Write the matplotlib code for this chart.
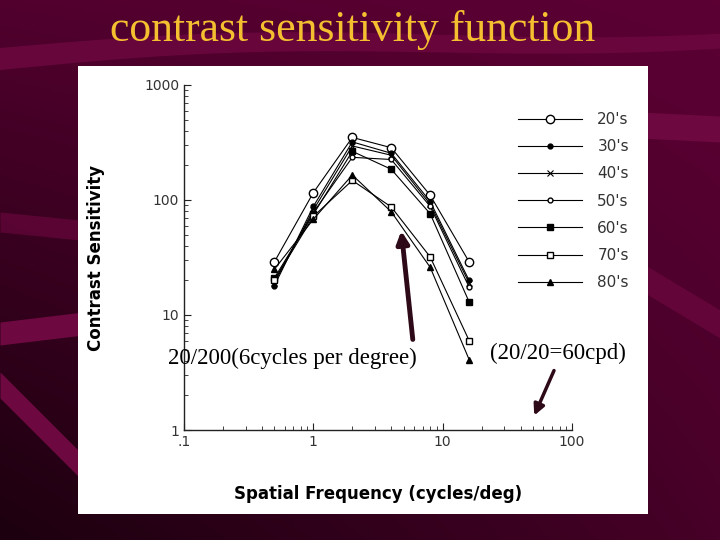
import numpy as np
import matplotlib.pyplot as plt
from matplotlib.colors import LinearSegmentedColormap

# spatial frequency (cycles/deg) and contrast sensitivity per age group
freq = [0.5, 1, 2, 4, 8, 16]
cs_20s = [29, 116, 350, 285, 110, 29]
cs_30s = [18, 88, 320, 255, 97, 20]
cs_40s = [19, 82, 295, 245, 92, 19]
cs_50s = [20, 78, 235, 225, 88, 17.5]
cs_60s = [21, 75, 265, 185, 76, 13]
cs_70s = [20, 72, 148, 87, 32, 6]
cs_80s = [25, 68, 165, 79, 26, 4.1]
ages = ["20's", "30's", "40's", "50's", "60's", "70's", "80's"]

fig = plt.figure(figsize=(7.2, 5.4), dpi=100)

# slide background
bg = fig.add_axes([0, 0, 1, 1])
bg.set_xlim(0, 720)
bg.set_ylim(540, 0)
bg.axis('off')
yy, xx = np.mgrid[0:1:200j, 0:1:200j]
grad = 0.55 * (1 - yy) + 0.35 * xx * yy + 0.1 * xx
cmap = LinearSegmentedColormap.from_list('slide', ['#1c000f', '#3a0020', '#5c0034'])
bg.imshow(grad, extent=[0, 720, 540, 0], cmap=cmap, aspect='auto', zorder=0)
band = '#6e0840'
t = np.linspace(0, 720, 200)
bg.fill_between(t, 48 - 0.03 * t - 8 * np.sin(t / 140), 70 - 0.04 * t - 8 * np.sin(t / 140),
                color=band, alpha=0.8, lw=0, zorder=1)
t2 = np.linspace(0, 80, 50)
bg.fill_between(t2, 322 - 0.12 * t2, 345 - 0.12 * t2, color=band, lw=0, zorder=1)
bg.fill_between(t2, 372 + 1.0 * t2, 398 + 1.0 * t2, color=band, lw=0, zorder=1)
bg.fill_between(t2, 212 + 0.1 * t2, 232 + 0.1 * t2, color=band, alpha=0.6, lw=0, zorder=1)
t3 = np.linspace(640, 720, 50)
bg.fill_between(t3, 112 + 0.05 * (t3 - 640), 138 + 0.05 * (t3 - 640), color=band, lw=0, zorder=1)
bg.fill_between(t3, 262 + 0.6 * (t3 - 640), 290 + 0.6 * (t3 - 640), color=band, alpha=0.7, lw=0, zorder=1)
bg.add_patch(plt.Rectangle((78, 66), 570, 448, facecolor='white', edgecolor='none', zorder=2))

fig.text(0.490, 0.944, 'contrast sensitivity function', color='#f5c030',
         fontsize=31.5, family='Liberation Serif', ha='center', va='center')

ax = fig.add_axes([0.2556, 0.2037, 0.5389, 0.6389])
ax.patch.set_alpha(0)
series = [cs_20s, cs_30s, cs_40s, cs_50s, cs_60s, cs_70s, cs_80s]
styles = [
    dict(marker='o', ms=6, mfc='white'),
    dict(marker='o', ms=3.5, mfc='black'),
    dict(marker='x', ms=4, mew=0.8),
    dict(marker='o', ms=3.5, mfc='white'),
    dict(marker='s', ms=5, mfc='black'),
    dict(marker='s', ms=5, mfc='white'),
    dict(marker='^', ms=5, mfc='black'),
]
for vals, lab, st in zip(series, ages, styles):
    ax.plot(freq, vals, color='black', lw=0.8, mec='black', label=lab, **st)

ax.set_xscale('log')
ax.set_yscale('log')
ax.set_xlim(0.1, 100)
ax.set_ylim(1, 1000)
for s in ['top', 'right']:
    ax.spines[s].set_visible(False)
for s in ['left', 'bottom']:
    ax.spines[s].set_color('#222222')
    ax.spines[s].set_linewidth(1.0)
ax.set_xticks([0.1, 1, 10, 100])
ax.set_xticklabels(['.1', '1', '10', '100'])
ax.set_yticks([1, 10, 100, 1000])
ax.set_yticklabels(['1', '10', '100', '1000'])
ax.tick_params(which='both', direction='in', colors='#222222', labelcolor='#333333', labelsize=10)
ax.tick_params(which='major', length=5)
ax.tick_params(which='minor', length=3)
ax.set_ylabel('Contrast Sensitivity', fontsize=12, fontweight='semibold', labelpad=28)
ax.set_xlabel('Spatial Frequency (cycles/deg)', fontsize=12, fontweight='semibold', labelpad=26)

ax.legend(loc='upper left', bbox_to_anchor=(0.825, 0.962), frameon=False, fontsize=11,
          handlelength=4.2, handletextpad=1.0, labelspacing=0.8, labelcolor='#333333')

# annotations
ax.annotate('', xy=(4.76, 57), xytext=(5.9, 5.8),
            arrowprops=dict(arrowstyle='-|>', color='#2e0a18', lw=3.5, mutation_scale=18),
            annotation_clip=False)
ax.annotate('', xy=(50, 1.27), xytext=(74, 3.46),
            arrowprops=dict(arrowstyle='-|>', color='#2e0a18', lw=2.5, mutation_scale=16),
            annotation_clip=False)
fig.text(0.406, 0.337, '20/200(6cycles per degree)', fontsize=16.5, family='Liberation Serif',
         ha='center', va='center', color='black')
fig.text(0.775, 0.346, '(20/20=60cpd)', fontsize=16.5, family='Liberation Serif',
         ha='center', va='center', color='black')

fig.savefig('out.png', dpi=100)
